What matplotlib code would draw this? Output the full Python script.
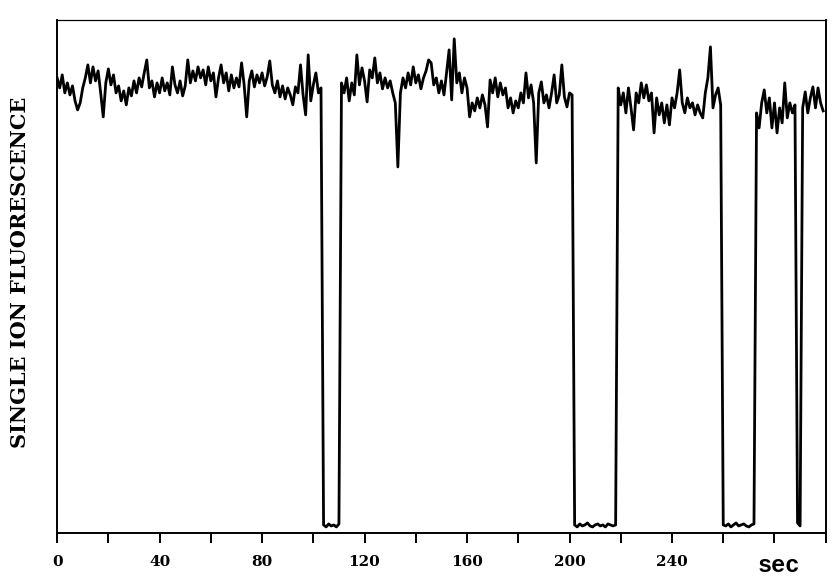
import matplotlib.pyplot as plt
import numpy as np

# fluorescence signal, one reading per second (0 .. 299 s)
signal = [
    455, 445, 458, 440, 450, 438, 447, 432, 423, 430,
    445, 455, 468, 450, 466, 452, 462, 440, 416, 450,
    464, 448, 458, 440, 447, 432, 442, 428, 445, 437,
    452, 440, 455, 446, 460, 473, 445, 452, 436, 450,
    440, 455, 442, 450, 438, 466, 448, 440, 452, 437,
    447, 473, 450, 462, 452, 466, 455, 463, 448, 466,
    452, 460, 436, 455, 468, 450, 460, 442, 458, 445,
    455, 446, 470, 448, 416, 452, 462, 446, 458, 450,
    460, 447, 456, 472, 448, 440, 452, 436, 447, 434,
    445, 438, 428, 446, 440, 468, 438, 418, 478, 432,
    448, 460, 440, 445, 8, 6, 9, 7, 8, 6,
    9, 450, 440, 455, 432, 450, 438, 478, 448, 465,
    452, 431, 463, 455, 475, 450, 460, 444, 455, 445,
    452, 440, 430, 366, 440, 455, 445, 460, 448, 466,
    450, 458, 444, 455, 462, 473, 470, 448, 455, 440,
    452, 438, 460, 483, 433, 494, 450, 460, 440, 455,
    445, 416, 430, 422, 435, 425, 438, 428, 406, 453,
    440, 455, 436, 450, 438, 445, 425, 435, 420, 432,
    425, 440, 430, 460, 435, 448, 430, 370, 440, 451,
    430, 438, 425, 440, 458, 430, 438, 468, 436, 426,
    440, 438, 8, 6, 9, 7, 8, 10, 7, 6,
    8, 9, 7, 8, 6, 9, 8, 7, 8, 445,
    428, 440, 420, 445, 425, 403, 440, 430, 450, 435,
    448, 432, 440, 400, 435, 418, 430, 410, 428, 408,
    435, 425, 440, 463, 430, 420, 435, 425, 430, 418,
    428, 420, 415, 440, 455, 486, 425, 438, 445, 428,
    8, 7, 9, 6, 8, 10, 7, 8, 9, 7,
    6, 8, 9, 420, 405, 430, 443, 420, 435, 405,
    430, 400, 425, 410, 450, 415, 430, 420, 428, 10,
    7, 425, 441, 420, 435, 446, 425, 445, 430, 422,
]
time = np.arange(len(signal))

tick_pos = list(range(0, 301, 20))
tick_text = ["0", "", "40", "", "80", "", "120", "", "160", "", "200", "", "240", "", "", ""]

fig = plt.figure(figsize=(8.4, 5.85), dpi=100)
ax = fig.add_axes([0.068, 0.089, 0.915, 0.877])
ax.plot(time, signal, color="black", linewidth=2.0, solid_joinstyle="round")

ax.set_xlim(0, 300)
ax.set_ylim(0, 513)
ax.set_yticks([])
ax.set_xticks(tick_pos)
ax.set_xticklabels(tick_text, fontfamily="DejaVu Serif", fontweight="bold", fontsize=11)
ax.tick_params(axis="x", direction="out", length=7, width=1.4, pad=9)

for side in ["left", "bottom", "right"]:
    ax.spines[side].set_linewidth(1.4)
ax.spines["top"].set_linewidth(0.9)

fig.text(0.024, 0.535, "SINGLE ION FLUORESCENCE", rotation=90, ha="center", va="center",
         fontfamily="DejaVu Serif", fontweight="bold", fontsize=15)
fig.text(0.927, 0.034, "sec", ha="center", va="center",
         fontfamily="Liberation Mono", fontweight="bold", fontsize=17)

plt.savefig("out.png")
